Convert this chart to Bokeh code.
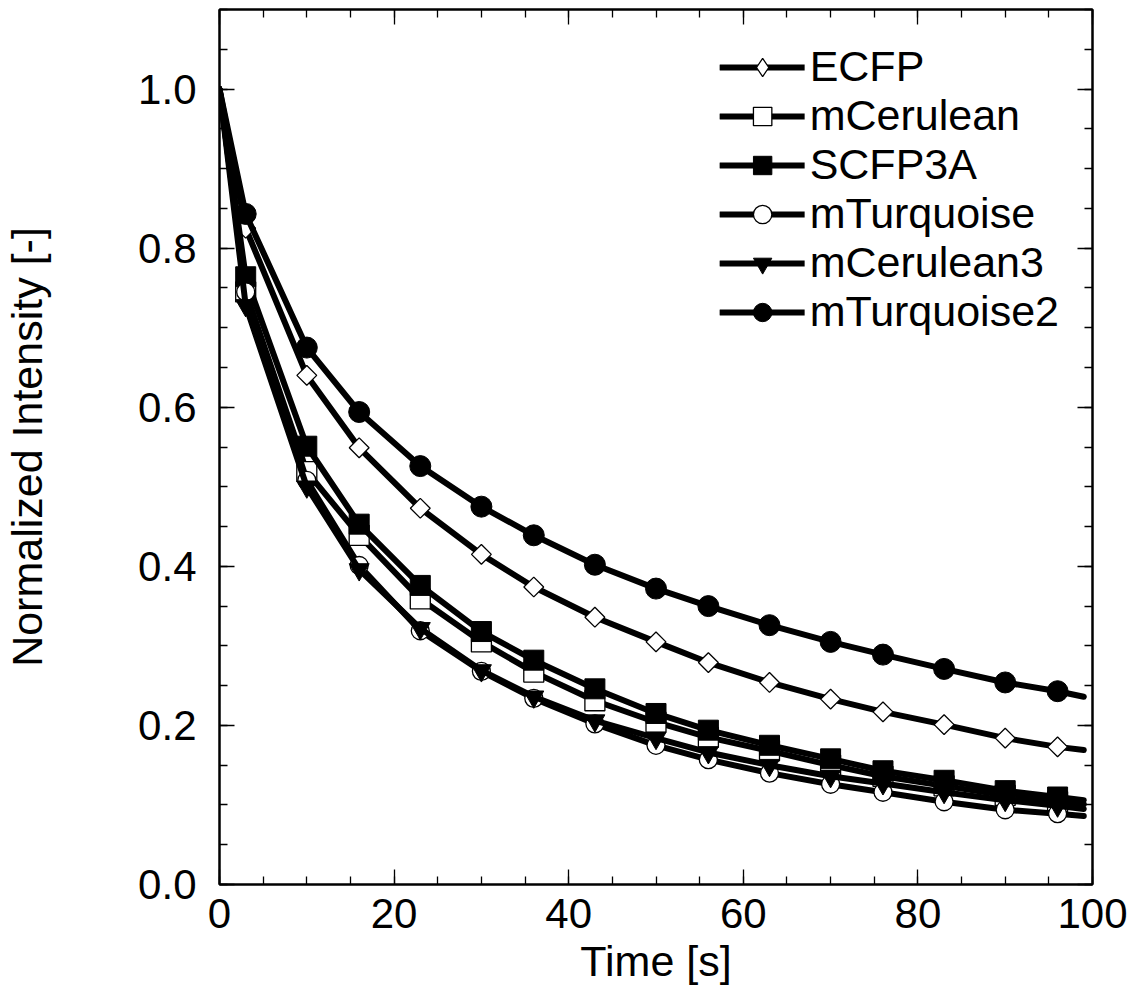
import math
from bokeh.plotting import figure
from bokeh.models import (LinearAxis, Range1d, SingleIntervalTicker, PrintfTickFormatter,
                          Legend, LegendItem)
from bokeh.embed import file_html
from bokeh.resources import INLINE

# ---------------- data ----------------
times = [3, 10, 16, 23, 30, 36, 43, 50, 56, 63, 70, 76, 83, 90, 96]

series_names = ["ECFP", "mCerulean", "SCFP3A", "mTurquoise", "mCerulean3", "mTurquoise2"]

ecfp        = [0.825, 0.640, 0.549, 0.473, 0.415, 0.374, 0.336, 0.305, 0.279, 0.254, 0.233, 0.217, 0.201, 0.184, 0.173]
mcerulean   = [0.745, 0.519, 0.439, 0.359, 0.305, 0.267, 0.231, 0.204, 0.185, 0.168, 0.150, 0.136, 0.124, 0.112, 0.104]
scfp3a      = [0.764, 0.551, 0.453, 0.376, 0.318, 0.282, 0.246, 0.215, 0.194, 0.175, 0.158, 0.143, 0.131, 0.118, 0.110]
mturquoise  = [0.745, 0.508, 0.401, 0.319, 0.268, 0.234, 0.202, 0.175, 0.157, 0.140, 0.126, 0.116, 0.104, 0.094, 0.089]
mcerulean3  = [0.728, 0.500, 0.396, 0.322, 0.269, 0.236, 0.206, 0.184, 0.166, 0.150, 0.136, 0.127, 0.116, 0.106, 0.099]
mturquoise2 = [0.843, 0.675, 0.594, 0.526, 0.475, 0.439, 0.402, 0.372, 0.350, 0.326, 0.305, 0.289, 0.271, 0.254, 0.243]

# fitted curve start / end values
fit_start_time = 0
fit_start_value = 1.0
fit_end_time = 99
fit_end_values = [0.169, 0.101, 0.106, 0.086, 0.095, 0.236]

x_ticks_major = 20
y_ticks_major = 0.2

# ---------------- styles ----------------
series_values = [ecfp, mcerulean, scfp3a, mturquoise, mcerulean3, mturquoise2]
marker_styles = [
    dict(marker="square", size=14, angle=math.pi / 4, fill_color="white", line_color="black", line_width=1.3),
    dict(marker="square", size=20, fill_color="white", line_color="black", line_width=1.3),
    dict(marker="square", size=20, fill_color="black", line_color="black", line_width=1),
    dict(marker="circle", size=18, fill_color="white", line_color="black", line_width=1.3),
    dict(marker="inverted_triangle", size=20, fill_color="black", line_color="black", line_width=1),
    dict(marker="circle", size=21, fill_color="black", line_color="black", line_width=1),
]
# legend-only marker for the ECFP diamond (the rotated square is not rotated in legends)
legend_marker_override = {0: dict(marker="diamond", size=22, fill_color="white", line_color="black", line_width=1.3)}

FONT = "Liberation Sans"

p = figure(width=1137, height=991,
           x_range=Range1d(0, 100), y_range=Range1d(0, 1.1),
           output_backend="svg", toolbar_location=None,
           min_border_left=218, min_border_right=45, min_border_top=9, min_border_bottom=107)

p.xgrid.visible = False
p.ygrid.visible = False
p.outline_line_color = "black"
p.outline_line_width = 2
p.background_fill_color = "white"
p.border_fill_color = "white"

xt = SingleIntervalTicker(interval=x_ticks_major, num_minor_ticks=4)
yt = SingleIntervalTicker(interval=y_ticks_major, num_minor_ticks=4)


def style_axis(ax, show_labels):
    ax.major_tick_in = 15
    ax.major_tick_out = 0
    ax.minor_tick_in = 8
    ax.minor_tick_out = 0
    ax.major_tick_line_color = "black"
    ax.minor_tick_line_color = "black"
    ax.major_tick_line_width = 1.3
    ax.minor_tick_line_width = 1.3
    ax.axis_line_color = "black"
    ax.axis_line_width = 2
    ax.major_label_text_font = FONT
    ax.axis_label_text_font = FONT
    ax.axis_label_text_font_style = "normal"
    ax.axis_label_text_color = "black"
    if show_labels:
        ax.major_label_text_color = "black"
        ax.major_label_text_font_size = "42px"
        ax.axis_label_text_font_size = "43px"
    else:
        # mirrored tick-only axis: labels are not painted at all
        ax.major_label_text_color = None
        ax.major_label_text_font_size = "1px"
        ax.major_label_standoff = 0


xa = p.xaxis[0]
xa.ticker = xt
xa.axis_label = "Time [s]"
style_axis(xa, True)
xa.major_label_standoff = 14
xa.axis_label_standoff = 6

ya = p.yaxis[0]
ya.ticker = yt
ya.formatter = PrintfTickFormatter(format="%.1f")
ya.axis_label = "Normalized Intensity [-]"
style_axis(ya, True)
ya.major_label_standoff = 23
ya.axis_label_standoff = 84

ra = LinearAxis(ticker=SingleIntervalTicker(interval=y_ticks_major, num_minor_ticks=4))
style_axis(ra, False)
p.add_layout(ra, "right")
ta = LinearAxis(ticker=SingleIntervalTicker(interval=x_ticks_major, num_minor_ticks=4))
style_axis(ta, False)
p.add_layout(ta, "above")

items = []
for i, (name, vals, end_v, ms) in enumerate(zip(series_names, series_values, fit_end_values, marker_styles)):
    lx = [fit_start_time] + times + [fit_end_time]
    ly = [fit_start_value] + vals + [end_v]
    lr = p.line(lx, ly, line_color="black", line_width=6, line_join="round", line_cap="round")
    sr = p.scatter(times, vals, **ms)
    if i in legend_marker_override:
        lg = p.scatter([float("nan")], [float("nan")], **legend_marker_override[i])
        items.append(LegendItem(label=name, renderers=[lr, lg]))
    else:
        items.append(LegendItem(label=name, renderers=[lr, sr]))

legend = Legend(items=items, location="top_right")
legend.label_text_font = FONT
legend.label_text_font_size = "43px"
legend.label_text_color = "black"
legend.glyph_width = 85
legend.glyph_height = 46
legend.label_height = 46
legend.label_standoff = 5
legend.spacing = 0
legend.padding = 6
legend.margin = 33
legend.border_line_color = None
legend.background_fill_alpha = 0
p.add_layout(legend, "center")

open("out.html", "w").write(file_html(p, INLINE))
